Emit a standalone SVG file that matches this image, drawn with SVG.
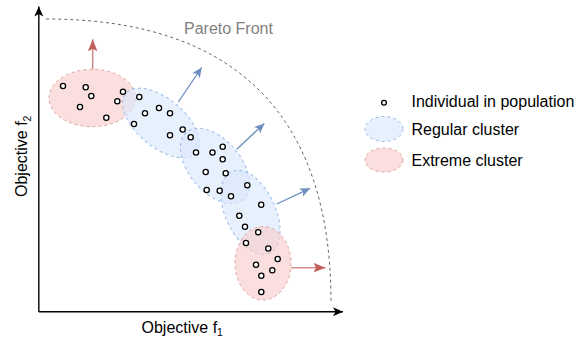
<svg xmlns="http://www.w3.org/2000/svg" width="578" height="338" viewBox="0 0 578 338">
<style>
  text { font-family: "Liberation Sans", Arial, Helvetica, sans-serif; font-size: 16px; fill: #000; }
  .reg { fill: #dae8fc; fill-opacity: 0.65; stroke: #9dbbe6; stroke-width: 1; stroke-dasharray: 3 3; }
  .ext { fill: #f8cecc; fill-opacity: 0.65; stroke: #e0a3a1; stroke-width: 1; stroke-dasharray: 3 3; }
  .dot { fill: #fff; stroke: #000; stroke-width: 1.3; }
  .axis { stroke: #000; stroke-width: 1.4; fill: none; }
  .barrow { stroke: #6c8ebf; stroke-width: 1.3; fill: none; }
  .rarrow { stroke: #d38e8c; stroke-width: 1.6; fill: none; }
</style>
<defs>
  <marker id="ahBlack" markerUnits="userSpaceOnUse" markerWidth="12" markerHeight="10" refX="10" refY="4.5" orient="auto">
    <path d="M0,0 L10,4.5 L0,9 L2.5,4.5 Z" fill="#000"/>
  </marker>
  <marker id="ahBlue" markerUnits="userSpaceOnUse" markerWidth="12" markerHeight="10" refX="10" refY="4.5" orient="auto">
    <path d="M0,0 L10,4.5 L0,9 L2.5,4.5 Z" fill="#6c8ebf"/>
  </marker>
  <marker id="ahRed" markerUnits="userSpaceOnUse" markerWidth="14" markerHeight="11" refX="12" refY="4.8" orient="auto">
    <path d="M0,0 L12,4.8 L0,9.6 L2.5,4.8 Z" fill="#c0605d"/>
  </marker>
</defs>

<g id="axes">
  <line class="axis" x1="38.8" y1="311.7" x2="38.8" y2="6.5" marker-end="url(#ahBlack)"/>
  <line class="axis" x1="38.8" y1="311.7" x2="343" y2="311.7" marker-end="url(#ahBlack)"/>
  <text x="141.5" y="332.5" font-size="15">Objective f<tspan font-size="10.5" dy="3.5">1</tspan></text>
  <text transform="translate(27,197) rotate(-90)" font-size="15">Objective f<tspan font-size="10.5" dy="3.5">2</tspan></text>
</g>

<g id="pareto-front">
  <path d="M46,19 C240,19 331,120 331,302" fill="none" stroke="#666" stroke-width="1" stroke-dasharray="3 3"/>
  <text x="184" y="34" fill="#808080" style="fill:#808080">Pareto Front</text>
</g>

<g id="extreme-cluster-1">
  <ellipse class="ext" cx="92.3" cy="98" rx="43.3" ry="28.7"/>
</g>
<g id="regular-cluster-1">
  <ellipse class="reg" cx="161" cy="123" rx="46" ry="24" transform="rotate(40 161 123)"/>
</g>
<g id="regular-cluster-2">
  <ellipse class="reg" cx="215" cy="166" rx="44" ry="26" transform="rotate(50 215 166)"/>
</g>
<g id="regular-cluster-3">
  <ellipse class="reg" cx="250.5" cy="212.5" rx="45" ry="25" transform="rotate(65 250.5 212.5)"/>
</g>
<g id="extreme-cluster-2">
  <ellipse class="ext" cx="263" cy="263.3" rx="28" ry="36.7"/>
</g>

<g id="connectors">
  <line class="rarrow" x1="92.7" y1="69.3" x2="92.7" y2="39.3" marker-end="url(#ahRed)"/>
  <line class="barrow" x1="178.3" y1="102" x2="201.7" y2="67.5" marker-end="url(#ahBlue)"/>
  <line class="barrow" x1="236.7" y1="149.3" x2="264.3" y2="123.5" marker-end="url(#ahBlue)"/>
  <line class="barrow" x1="276.7" y1="204" x2="310" y2="188.3" marker-end="url(#ahBlue)"/>
  <line class="rarrow" x1="291" y1="267.7" x2="325.5" y2="267.7" marker-end="url(#ahRed)"/>
</g>

<g id="individuals">
  <circle class="dot" cx="63" cy="86" r="2.6"/>
  <circle class="dot" cx="85.7" cy="87.3" r="2.6"/>
  <circle class="dot" cx="91.3" cy="96" r="2.6"/>
  <circle class="dot" cx="80" cy="107" r="2.6"/>
  <circle class="dot" cx="106.3" cy="117.7" r="2.6"/>
  <circle class="dot" cx="117.3" cy="101.3" r="2.6"/>
  <circle class="dot" cx="123" cy="91.7" r="2.6"/>
  <circle class="dot" cx="139.3" cy="97" r="2.6"/>
  <circle class="dot" cx="145" cy="113.3" r="2.6"/>
  <circle class="dot" cx="134" cy="124" r="2.6"/>
  <circle class="dot" cx="159" cy="108" r="2.6"/>
  <circle class="dot" cx="170" cy="113.3" r="2.6"/>
  <circle class="dot" cx="182.7" cy="129.5" r="2.6"/>
  <circle class="dot" cx="170" cy="135.3" r="2.6"/>
  <circle class="dot" cx="190.7" cy="137.3" r="2.6"/>
  <circle class="dot" cx="196" cy="152.5" r="2.6"/>
  <circle class="dot" cx="212.5" cy="152.5" r="2.6"/>
  <circle class="dot" cx="222.7" cy="146.7" r="2.6"/>
  <circle class="dot" cx="222.7" cy="159.3" r="2.6"/>
  <circle class="dot" cx="205.7" cy="172" r="2.6"/>
  <circle class="dot" cx="225.7" cy="173.2" r="2.6"/>
  <circle class="dot" cx="206.7" cy="190" r="2.6"/>
  <circle class="dot" cx="219.7" cy="190.7" r="2.6"/>
  <circle class="dot" cx="231" cy="196.2" r="2.6"/>
  <circle class="dot" cx="247.3" cy="185.3" r="2.6"/>
  <circle class="dot" cx="261.2" cy="204.8" r="2.6"/>
  <circle class="dot" cx="239.3" cy="215.7" r="2.6"/>
  <circle class="dot" cx="245" cy="226.7" r="2.6"/>
  <circle class="dot" cx="258.2" cy="232.2" r="2.6"/>
  <circle class="dot" cx="246" cy="243" r="2.6"/>
  <circle class="dot" cx="268.3" cy="248.5" r="2.6"/>
  <circle class="dot" cx="277.7" cy="259" r="2.6"/>
  <circle class="dot" cx="256" cy="264.7" r="2.6"/>
  <circle class="dot" cx="272.3" cy="270.3" r="2.6"/>
  <circle class="dot" cx="261.3" cy="275.7" r="2.6"/>
  <circle class="dot" cx="261.3" cy="292" r="2.6"/>
</g>

<g id="legend">
  <g id="legend-individual">
    <circle class="dot" cx="384" cy="102.7" r="2.4"/>
    <text x="411.5" y="106.5">Individual in population</text>
  </g>
  <g id="legend-regular">
    <ellipse class="reg" cx="384" cy="129" rx="19" ry="12.5"/>
    <text x="411.5" y="134.5">Regular cluster</text>
  </g>
  <g id="legend-extreme">
    <ellipse class="ext" cx="384" cy="160" rx="19" ry="12"/>
    <text x="411.5" y="165.5">Extreme cluster</text>
  </g>
</g>
</svg>
